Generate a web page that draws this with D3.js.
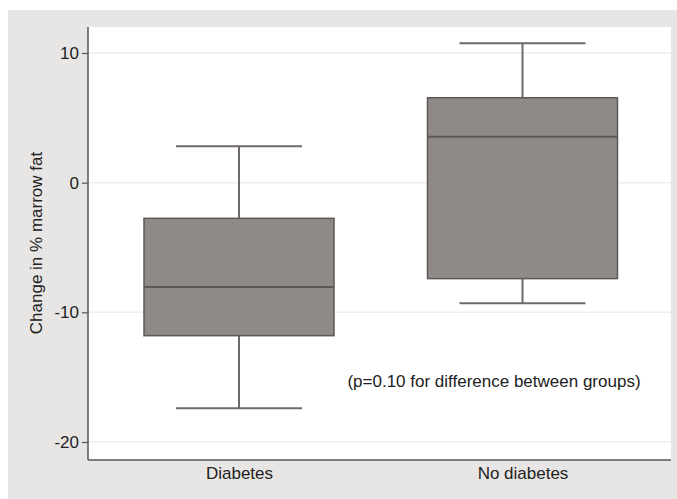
<!DOCTYPE html>
<html><head><meta charset="utf-8">
<script src="https://cdn.jsdelivr.net/npm/d3@7"></script>
<style>body{margin:0;background:#fff;}svg{display:block;font-family:"Liberation Sans",Arial,sans-serif;}</style>
</head><body>
<script>
const categories = ["Diabetes", "No diabetes"];
const whiskerLow = [-17.4, -9.3];
const q1 = [-11.8, -7.4];
const median = [-8.05, 3.55];
const q3 = [-2.75, 6.55];
const whiskerHigh = [2.8, 10.75];
const yTicks = [-20, -10, 0, 10];
const yLabel = "Change in % marrow fat";
const note = "(p=0.10 for difference between groups)";

const W = 677, H = 499;
const FS = 17;
const svg = d3.select("body").append("svg").attr("width", W).attr("height", H);
svg.append("rect").attr("x", 8).attr("y", 10).attr("width", W - 8).attr("height", H - 10).attr("fill", "#e8e6e4");

const plot = {l: 88, r: 671, t: 27, b: 460};
svg.append("rect").attr("x", plot.l).attr("y", plot.t).attr("width", plot.r - plot.l).attr("height", plot.b - plot.t).attr("fill", "#ffffff");

const y = d3.scaleLinear().domain([-20, 10]).range([442, 53]);
const x = d3.scalePoint().domain(categories).range([239, 522.5]);
const boxW = 190, capW = 126;

// gridlines
svg.append("g").selectAll("line").data(yTicks).join("line")
  .attr("x1", plot.l).attr("x2", plot.r)
  .attr("y1", d => y(d)).attr("y2", d => y(d))
  .attr("stroke", "#ededeb").attr("stroke-width", 1.5);

const data = categories.map((c, i) => ({c, lo: whiskerLow[i], q1: q1[i], med: median[i], q3: q3[i], hi: whiskerHigh[i]}));
const g = svg.append("g").selectAll("g").data(data).join("g");
const wc = "#6f6968";
g.append("line").attr("x1", d => x(d.c)).attr("x2", d => x(d.c)).attr("y1", d => y(d.hi)).attr("y2", d => y(d.q3)).attr("stroke", wc).attr("stroke-width", 2);
g.append("line").attr("x1", d => x(d.c)).attr("x2", d => x(d.c)).attr("y1", d => y(d.q1)).attr("y2", d => y(d.lo)).attr("stroke", wc).attr("stroke-width", 2);
g.append("line").attr("x1", d => x(d.c) - capW / 2).attr("x2", d => x(d.c) + capW / 2).attr("y1", d => y(d.hi)).attr("y2", d => y(d.hi)).attr("stroke", wc).attr("stroke-width", 2);
g.append("line").attr("x1", d => x(d.c) - capW / 2).attr("x2", d => x(d.c) + capW / 2).attr("y1", d => y(d.lo)).attr("y2", d => y(d.lo)).attr("stroke", wc).attr("stroke-width", 2);
g.append("rect").attr("x", d => x(d.c) - boxW / 2).attr("width", boxW)
  .attr("y", d => y(d.q3)).attr("height", d => y(d.q1) - y(d.q3))
  .attr("fill", "#8f8987").attr("stroke", "#5e5857").attr("stroke-width", 1.5);
g.append("line").attr("x1", d => x(d.c) - boxW / 2).attr("x2", d => x(d.c) + boxW / 2).attr("y1", d => y(d.med)).attr("y2", d => y(d.med)).attr("stroke", "#5e5857").attr("stroke-width", 2);

// axes
const ya = svg.append("g").attr("transform", `translate(${plot.l},0)`)
  .call(d3.axisLeft(y).tickValues(yTicks).tickSize(6).tickPadding(3).tickFormat(d => String(d)));
ya.select(".domain").attr("d", `M0,${plot.t}V${plot.b}`).attr("stroke", "#555").attr("stroke-width", 1.5);
ya.selectAll(".tick line").attr("stroke", "#555").attr("stroke-width", 1.2);
ya.selectAll("text").attr("font-size", FS).attr("fill", "#222").attr("font-family", "Liberation Sans, Arial, sans-serif");

const xa = svg.append("g").attr("transform", `translate(0,${plot.b})`)
  .call(d3.axisBottom(x).tickSize(0).tickPadding(7));
xa.select(".domain").attr("d", `M${plot.l},0H${plot.r}`).attr("stroke", "#555").attr("stroke-width", 1.5);
xa.selectAll("text").attr("font-size", FS).attr("fill", "#222").attr("font-family", "Liberation Sans, Arial, sans-serif");

svg.append("text").attr("transform", "translate(42,243) rotate(-90)").attr("text-anchor", "middle")
  .attr("font-size", FS).attr("fill", "#222").text(yLabel);
svg.append("text").attr("x", 494).attr("y", 387).attr("text-anchor", "middle")
  .attr("font-size", FS).attr("fill", "#222").text(note);
</script>
</body></html>
